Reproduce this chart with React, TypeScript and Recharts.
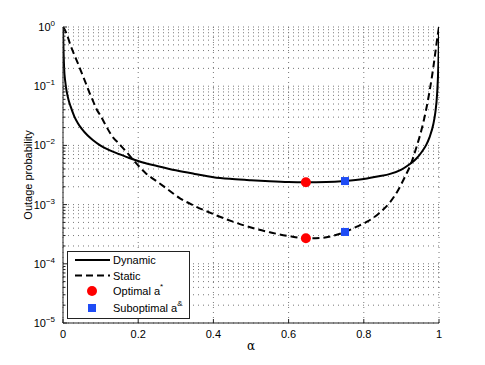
import React from 'react';
import { ComposedChart, Line, Scatter, XAxis, YAxis, CartesianGrid, Legend } from 'recharts';

// outage curves
const dynamicAlpha = [0, 0.001, 0.003, 0.006, 0.01, 0.015, 0.02, 0.03, 0.04, 0.05, 0.065, 0.08, 0.1, 0.12, 0.15, 0.18, 0.21, 0.25, 0.3, 0.35, 0.4, 0.45, 0.5, 0.55, 0.6, 0.646, 0.7, 0.75, 0.8, 0.84, 0.87, 0.9, 0.92, 0.94, 0.955, 0.965, 0.975, 0.985, 0.99, 0.995, 0.998, 0.9995, 1];
const dynamicOutage = [1, 0.5, 0.2, 0.12, 0.08, 0.058, 0.046, 0.031, 0.0235, 0.019, 0.0148, 0.0122, 0.0099, 0.0085, 0.0071, 0.006, 0.0052, 0.0045, 0.0038, 0.0033, 0.0029, 0.0027, 0.00257, 0.00247, 0.0024, 0.00238, 0.0024, 0.0025, 0.0027, 0.003, 0.0033, 0.0039, 0.0047, 0.006, 0.0079, 0.0099, 0.0138, 0.023, 0.035, 0.075, 0.2, 0.55, 1];

const staticAlpha = [0, 0.005, 0.01, 0.02, 0.03, 0.04, 0.05, 0.06, 0.07, 0.08, 0.09, 0.1, 0.115, 0.13, 0.15, 0.17, 0.19, 0.22, 0.25, 0.28, 0.31, 0.35, 0.4, 0.45, 0.5, 0.55, 0.6, 0.646, 0.69, 0.72, 0.75, 0.78, 0.81, 0.84, 0.87, 0.89, 0.91, 0.925, 0.94, 0.955, 0.965, 0.975, 0.985, 0.992, 0.997, 1];
const staticOutage = [1, 0.89, 0.76, 0.49, 0.34, 0.24, 0.166, 0.115, 0.079, 0.056, 0.04, 0.0316, 0.021, 0.0145, 0.0105, 0.0076, 0.0054, 0.0034, 0.00245, 0.00178, 0.00129, 0.00095, 0.00069, 0.00052, 0.00041, 0.00034, 0.000295, 0.00027, 0.000275, 0.0003, 0.000345, 0.00042, 0.00052, 0.00071, 0.0011, 0.0017, 0.003, 0.0048, 0.0093, 0.02, 0.038, 0.083, 0.21, 0.45, 0.76, 1];

const optimalAlpha = [0.646, 0.646];
const optimalOutage = [0.00238, 0.00027];
const suboptimalAlpha = [0.75, 0.75];
const suboptimalOutage = [0.0025, 0.000345];

const seriesNames = ['Dynamic', 'Static'];
const markerNames = ['Optimal a', 'Suboptimal a'];
const markerSups = ['*', '&'];

const xTicks = [0, 0.2, 0.4, 0.6, 0.8, 1];
const xTickLabels = ['0', '0.2', '0.4', '0.6', '0.8', '1'];
const yDecades = [1e-5, 1e-4, 1e-3, 1e-2, 1e-1, 1];
const yExponents = ['\u22125', '\u22124', '\u22123', '\u22122', '\u22121', '0'];
const minorSteps = [2, 3, 4, 5, 6, 7, 8, 9];

const yTicks: number[] = [];
yDecades.forEach((d, i) => {
  yTicks.push(d);
  if (i < yDecades.length - 1) minorSteps.forEach((m) => yTicks.push(m * d));
});

const dynamicRows = dynamicAlpha.map((a, i) => ({ alpha: a, outage: dynamicOutage[i] }));
const staticRows = staticAlpha.map((a, i) => ({ alpha: a, outage: staticOutage[i] }));
const optimalPts = optimalAlpha.map((a, i) => ({ alpha: a, outage: optimalOutage[i] }));
const suboptimalPts = suboptimalAlpha.map((a, i) => ({ alpha: a, outage: suboptimalOutage[i] }));

const AX = '#222';
const FONT = '"Liberation Sans", Arial, sans-serif';

const decadeIndex = (v: number) => yDecades.findIndex((d) => Math.abs(d - v) < d * 1e-6);

const LeftTick = (props: any) => {
  const { x, y, payload } = props;
  const i = decadeIndex(payload.value);
  return (
    <g>
      <line x1={x} y1={y} x2={x + (i >= 0 ? 4 : 2.5)} y2={y} stroke={AX} />
      {i >= 0 && (
        <text x={x - 8} y={y + 4} textAnchor="end" fontSize={11} fill="#000" fontFamily={FONT}>
          10<tspan dy={-5} fontSize={8}>{yExponents[i]}</tspan>
        </text>
      )}
    </g>
  );
};

const RightTick = (props: any) => {
  const { x, y, payload } = props;
  const i = decadeIndex(payload.value);
  return <line x1={x} y1={y} x2={x - (i >= 0 ? 4 : 2.5)} y2={y} stroke={AX} />;
};

const BottomTick = (props: any) => {
  const { x, y, payload, index } = props;
  return (
    <g>
      <line x1={x} y1={y} x2={x} y2={y - 4} stroke={AX} />
      <text x={x} y={y + 15} textAnchor="middle" fontSize={11} fill="#000" fontFamily={FONT}>
        {xTickLabels[index] ?? String(payload.value)}
      </text>
    </g>
  );
};

const TopTick = (props: any) => {
  const { x, y } = props;
  return <line x1={x} y1={y} x2={x} y2={y + 4} stroke={AX} />;
};

const LegendBox = () => (
  <svg width={123} height={68} style={{ display: 'block', fontFamily: FONT }}>
    <rect x={0.5} y={0.5} width={122} height={67} fill="#fff" stroke={AX} />
    <line x1={8} x2={43} y1={9} y2={9} stroke="#000" strokeWidth={2} />
    <text x={46} y={13} fontSize={11}>{seriesNames[0]}</text>
    <line x1={8} x2={43} y1={24.5} y2={24.5} stroke="#000" strokeWidth={2} strokeDasharray="7 4" />
    <text x={46} y={28.5} fontSize={11}>{seriesNames[1]}</text>
    <circle cx={25} cy={40} r={5} fill="#ff0000" />
    <text x={46} y={44} fontSize={11}>
      {markerNames[0]}
      <tspan dy={-6} fontSize={8}>{markerSups[0]}</tspan>
    </text>
    <rect x={21} y={53} width={8} height={8} fill="#1f4cf5" />
    <text x={46} y={61} fontSize={11}>
      {markerNames[1]}
      <tspan dy={-6} fontSize={8}>{markerSups[1]}</tspan>
    </text>
  </svg>
);

export default function App() {
  return (
    <ComposedChart
      width={477}
      height={357}
      margin={{ top: 19, right: 46, bottom: 12, left: 10 }}
      style={{ fontFamily: FONT }}
    >
      <CartesianGrid stroke="#777" strokeDasharray="1 4" />
      <XAxis
        dataKey="alpha"
        type="number"
        domain={[0, 1]}
        ticks={xTicks}
        interval={0}
        allowDataOverflow
        height={30}
        tickSize={0}
        tickMargin={0}
        tickLine={false}
        axisLine={{ stroke: AX }}
        tick={<BottomTick />}
        label={{
          content: (p: any) => {
            const vb = p.viewBox || { x: 55, y: 315, width: 376, height: 30 };
            return (
              <text x={vb.x + vb.width / 2} y={vb.y + 27} textAnchor="middle" fontSize={12} fontFamily="DejaVu Serif, serif" fill="#000">
                α
              </text>
            );
          },
        }}
      />
      <XAxis
        xAxisId="top"
        orientation="top"
        type="number"
        dataKey="alpha"
        domain={[0, 1]}
        ticks={xTicks}
        interval={0}
        allowDataOverflow
        height={0}
        tickSize={0}
        tickMargin={0}
        tickLine={false}
        axisLine={{ stroke: AX }}
        tick={<TopTick />}
      />
      <YAxis
        type="number"
        scale="log"
        domain={[1e-5, 1]}
        allowDataOverflow
        ticks={yTicks}
        interval={0}
        width={45}
        tickSize={0}
        tickMargin={0}
        tickLine={false}
        axisLine={{ stroke: AX }}
        tick={<LeftTick />}
        label={{
          content: (p: any) => {
            const vb = p.viewBox || { x: 10, y: 19, width: 45, height: 296 };
            const cx = vb.x + 10;
            const cy = vb.y + vb.height / 2;
            return (
              <text x={cx} y={cy} transform={`rotate(-90 ${cx} ${cy})`} textAnchor="middle" dominantBaseline="central" fontSize={11} fontFamily={FONT} fill="#000">
                Outage probability
              </text>
            );
          },
        }}
      />
      <YAxis
        yAxisId="right"
        orientation="right"
        type="number"
        scale="log"
        domain={[1e-5, 1]}
        allowDataOverflow
        ticks={yTicks}
        interval={0}
        width={0}
        tickSize={0}
        tickMargin={0}
        tickLine={false}
        axisLine={{ stroke: AX }}
        tick={<RightTick />}
      />
      <Line data={dynamicRows} type="monotone" dataKey="outage" stroke="#000" strokeWidth={2} dot={false} isAnimationActive={false} />
      <Line data={staticRows} type="monotone" dataKey="outage" stroke="#000" strokeWidth={2} strokeDasharray="7 4" dot={false} isAnimationActive={false} />
      <Scatter
        data={optimalPts}
        dataKey="outage"
        isAnimationActive={false}
        shape={(p: any) => <circle cx={p.cx} cy={p.cy} r={5} fill="#ff0000" />}
      />
      <Scatter
        data={suboptimalPts}
        dataKey="outage"
        isAnimationActive={false}
        shape={(p: any) => <rect x={p.cx - 4} y={p.cy - 4} width={8} height={8} fill="#1f4cf5" />}
      />
      <Legend
        layout="horizontal"
        verticalAlign="middle"
        align="center"
        wrapperStyle={{ left: 59, top: 243, width: 123, height: 68 }}
        content={() => <LegendBox />}
      />
    </ComposedChart>
  );
}
